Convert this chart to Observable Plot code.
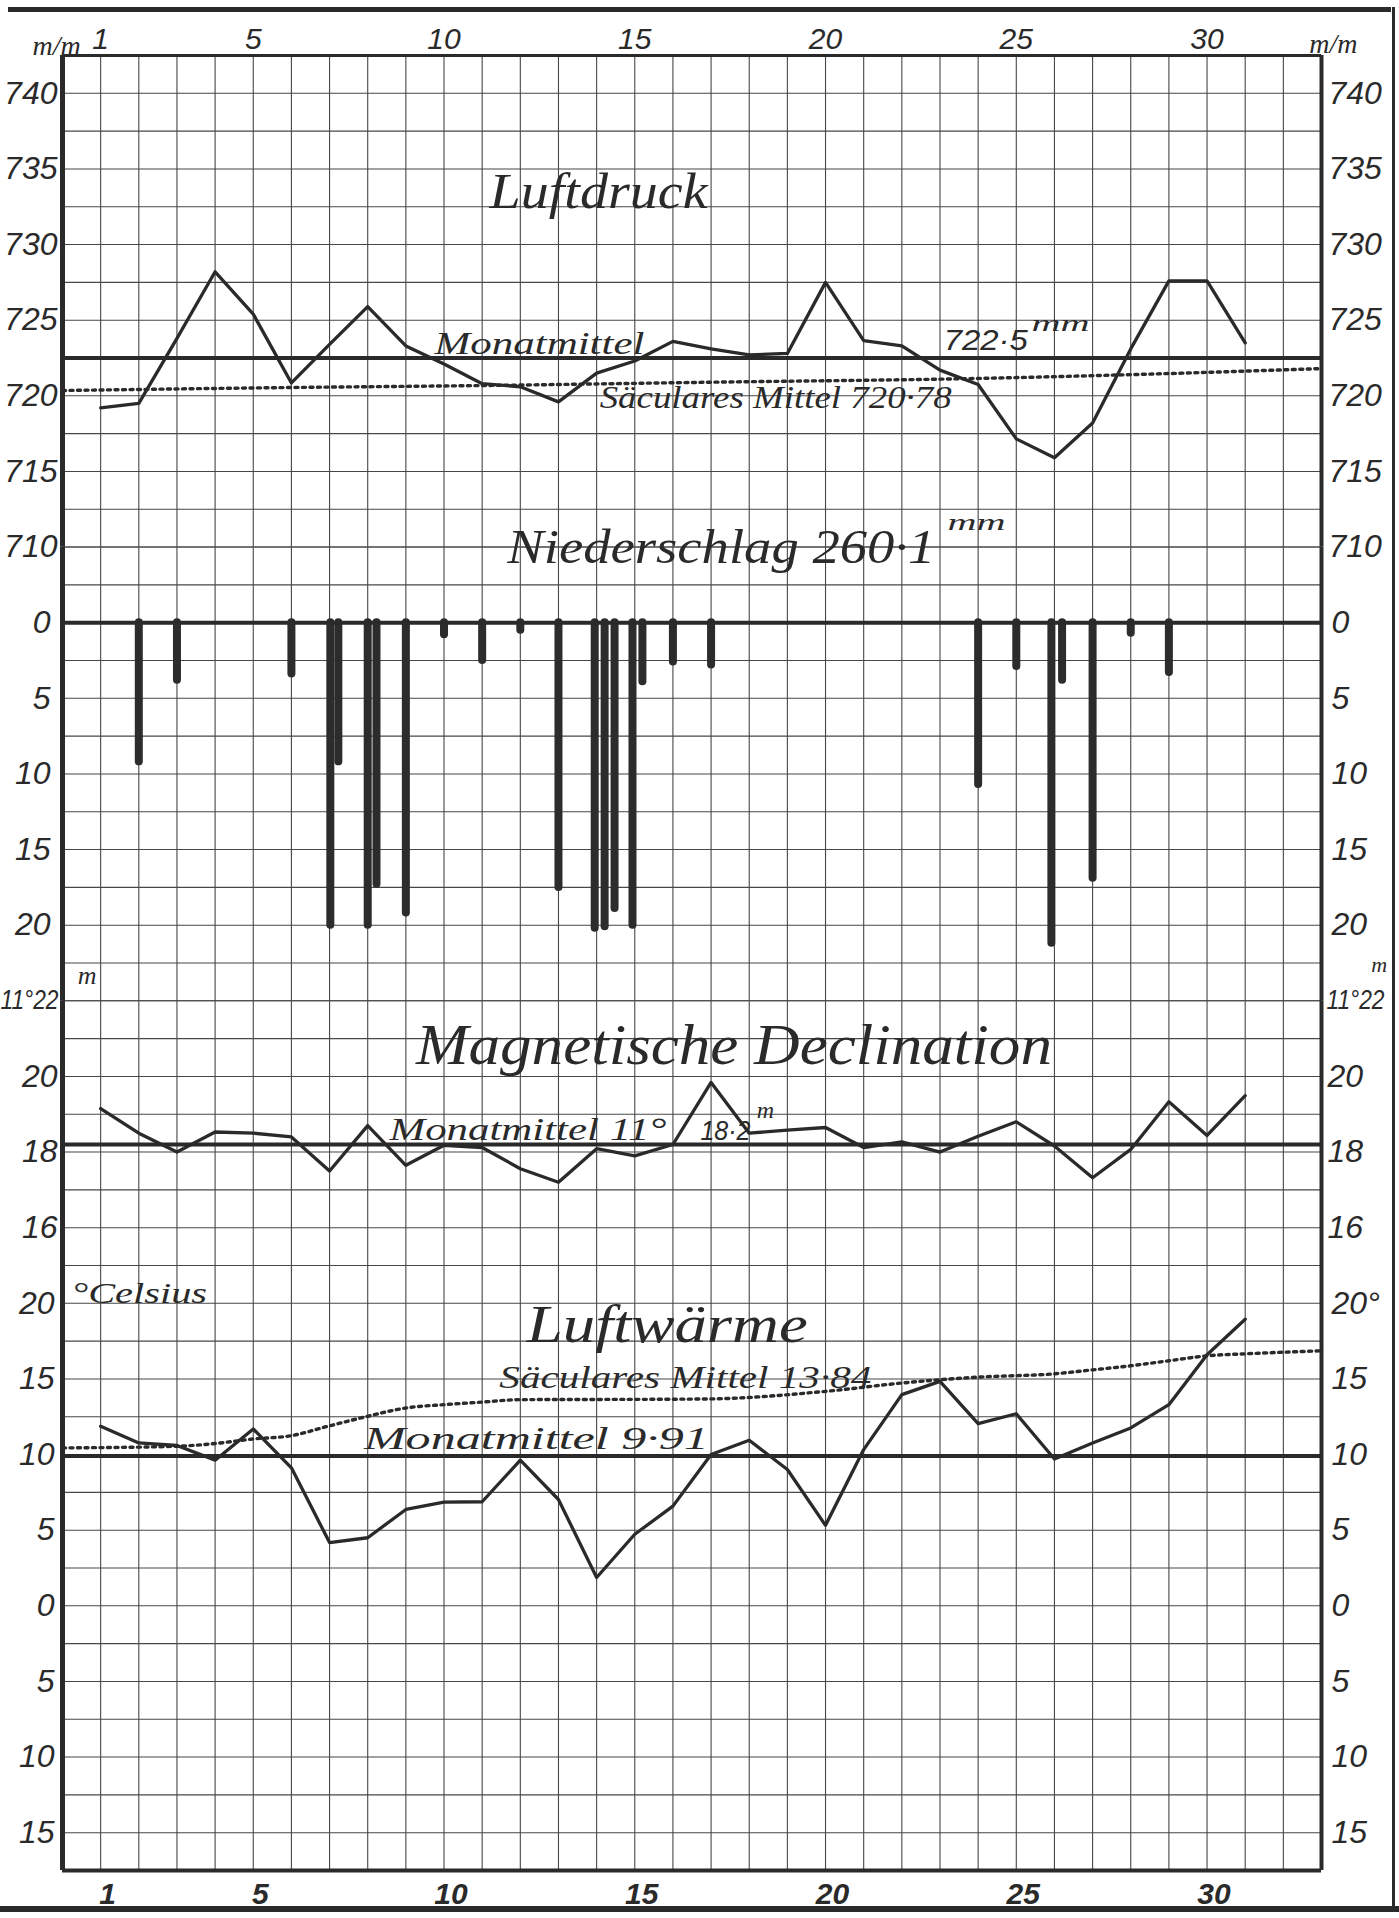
<!DOCTYPE html>
<html>
<head>
<meta charset="utf-8">
<script src="https://cdn.jsdelivr.net/npm/d3@7"></script>
<script src="https://cdn.jsdelivr.net/npm/@observablehq/plot@0.6"></script>
<style>
html, body { margin: 0; padding: 0; background: #fff; }
#wrap { position: relative; width: 1399px; height: 1918px; overflow: hidden; background: #fff; }
#wrap svg { position: absolute; left: 0; top: 0; }
.deco { position: absolute; background: #2a2a2a; }
</style>
</head>
<body>
<div id="wrap"></div>
<script>
// ---------------- data ----------------
const days = d3.range(1, 32);

// Luftdruck (mm)
const pressure = [719.2, 719.5, 723.8, 728.2, 725.4, 720.85, 723.4, 725.9, 723.3, 722.1,
                  720.8, 720.6, 719.6, 721.5, 722.3, 723.6, 723.1, 722.7, 722.8, 727.5,
                  723.65, 723.3, 721.7, 720.75, 717.15, 715.9, 718.2, 723.1, 727.6, 727.6, 723.5];
const pressureMean = 722.5;
const pressureSecularDays = [0, 6, 11, 17, 24, 28, 33];
const pressureSecularValues = [720.35, 720.55, 720.68, 720.9, 721.15, 721.4, 721.8];

// Niederschlag (mm) – bar positions in days, amounts
const precipDays = [2, 3, 6, 7.02, 7.23, 8, 8.23, 9, 10, 11, 12, 13, 13.95, 14.21, 14.47,
                    14.94, 15.2, 16, 17, 24, 25, 25.92, 26.2, 27, 28, 29];
const precipAmounts = [9.2, 3.8, 3.4, 20.0, 9.2, 20.0, 17.3, 19.2, 0.8, 2.5, 0.5, 17.5, 20.2, 20.1, 18.9,
                       20.0, 3.9, 2.6, 2.8, 10.7, 2.9, 21.2, 3.8, 16.9, 0.7, 3.3];

// Magnetische Declination (minutes above 11°)
const declination = [19.15, 18.5, 18.0, 18.53, 18.5, 18.4, 17.5, 18.7, 17.65, 18.18,
                     18.12, 17.56, 17.2, 18.09, 17.9, 18.2, 19.84, 18.5, 18.58, 18.65,
                     18.12, 18.27, 18.0, 18.42, 18.8, 18.16, 17.32, 18.07, 19.33, 18.44, 19.49];
const declinationMean = 18.2;

// Luftwärme (°C)
const temperature = [11.87, 10.77, 10.6, 9.63, 11.69, 9.12, 4.18, 4.5, 6.37, 6.86,
                     6.88, 9.63, 7.03, 1.87, 4.73, 6.59, 10.0, 10.95, 9.01, 5.32,
                     10.33, 13.96, 14.84, 12.04, 12.7, 9.71, 10.77, 11.76, 13.3, 16.6, 18.95];
const temperatureMean = 9.91;
const temperatureSecularDays = [0, 3, 4, 5, 6, 7, 8, 9, 10, 11, 12, 16, 17, 20, 22, 23, 24, 26, 27, 28, 29, 30, 31, 33];
const temperatureSecularValues = [10.44, 10.55, 10.73, 11.03, 11.25, 11.9, 12.53, 13.08, 13.3, 13.47, 13.63, 13.66,
                                  13.68, 14.18, 14.73, 14.95, 15.12, 15.34, 15.6, 15.87, 16.2, 16.53, 16.66, 16.86];

// tick labels
const dayTicks = [1, 5, 10, 15, 20, 25, 30];
const pressureTicks = [740, 735, 730, 725, 720, 715, 710];
const precipTicks = [0, 5, 10, 15, 20];
const declTicks = [22, 20, 18, 16];
const tempTicks = [20, 15, 10, 5, 0, -5, -10, -15];

// ---------------- tables ----------------
const pressureData = days.map((d, i) => ({day: d, value: pressure[i]}));
const pressureSecular = pressureSecularDays.map((d, i) => ({day: d, value: pressureSecularValues[i]}));
const precipData = precipDays.map((d, i) => ({day: d, amount: precipAmounts[i]}));
const declData = days.map((d, i) => ({day: d, value: declination[i]}));
const tempData = days.map((d, i) => ({day: d, value: temperature[i]}));
const tempSecular = temperatureSecularDays.map((d, i) => ({day: d, value: temperatureSecularValues[i]}));

// ---------------- layout ----------------
const W = 1399, H = 1918;
const FL = 62, FR = 1321, FT = 55, FB = 1870;
const rowH = (FB - FT) / 48;
const rowY = r => FT + (r + 1) * rowH;

const INK = "#2a2a2a";
const DIGITS = "'Liberation Sans', Arial, sans-serif";
const SCRIPT = "'Liberation Serif', 'DejaVu Serif', serif";
const gridStyle = {stroke: "#474747", strokeOpacity: 1, strokeWidth: 1.1};
const dotted = {stroke: INK, strokeWidth: 3.4, strokeDasharray: "3,4.5", strokeLinecap: "round"};

// text widths to fit (by text content)
const fitWidths = {"11°22": 58};
function note(text, x, y, o = {}) {
  if (o.width) fitWidths[text] = o.width;
  return Plot.text([text], {
    x, y, text: d => d,
    fontFamily: o.family || SCRIPT, fontStyle: "italic",
    fontSize: o.size || 30, fill: INK,
    textAnchor: o.anchor || "start", lineAnchor: "bottom"
  });
}
const axisOpts = {tickSize: 0, fontSize: 32, fontStyle: "italic", fontFamily: DIGITS, label: null};

function frameMarks() {
  return [
    Plot.ruleX([0], {stroke: INK, strokeWidth: 5}),
    Plot.ruleX([33], {stroke: INK, strokeWidth: 4})
  ];
}

function panel(r0, r1, y, marks, hideX) {
  return Plot.plot({
    width: W, height: H,
    marginLeft: FL, marginRight: W - FR,
    marginTop: rowY(r0), marginBottom: H - rowY(r1),
    x: hideX ? {domain: [0, 33], axis: null} : {domain: [0, 33]},
    y,
    style: {background: "transparent", overflow: "visible", color: INK, fontFamily: DIGITS},
    marks
  });
}

// ---- Luftdruck ----
const pPlot = panel(-1, 12, {domain: [710, 742.5]}, [
  Plot.gridY(d3.range(710, 742.6, 2.5), gridStyle),
  Plot.gridX(d3.range(0, 34), gridStyle),
  Plot.ruleY([742.5], {stroke: INK, strokeWidth: 3}),
  ...frameMarks(),
  Plot.ruleY([pressureMean], {stroke: INK, strokeWidth: 4}),
  Plot.line(pressureSecular, {x: "day", y: "value", curve: "monotone-x", ...dotted}),
  Plot.line(pressureData, {x: "day", y: "value", stroke: INK, strokeWidth: 3.3}),
  Plot.axisY(pressureTicks, {...axisOpts, anchor: "left", tickPadding: 5}),
  Plot.axisY(pressureTicks, {...axisOpts, anchor: "right", tickPadding: 7}),
  Plot.axisX(dayTicks, {...axisOpts, fontSize: 30, anchor: "top", tickPadding: 7}),
  Plot.text(["m/m"], {frameAnchor: "top-left", dx: -30, dy: -20, fontSize: 28, fontStyle: "italic", fontFamily: SCRIPT, fill: INK}),
  Plot.text(["m/m"], {frameAnchor: "top-right", dx: 36, dy: -22, fontSize: 28, fontStyle: "italic", fontFamily: SCRIPT, fill: INK}),
  note("Luftdruck", 14.05, 732.45, {size: 50, anchor: "middle", width: 218}),
  note("Monatmittel", 9.75, 722.75, {size: 32, width: 210}),
  note("722·5", 23.1, 723.0, {size: 30, family: DIGITS, width: 84}),
  note("mm", 25.4, 724.3, {size: 24, width: 58}),
  note("Säculares Mittel 720·78", 14.08, 719.2, {size: 32, width: 352})
]);

// ---- Niederschlag ----
const nPlot = panel(12, 24, {domain: [-5, 25], reverse: true}, [
  Plot.gridY(d3.range(-5, 25.1, 2.5), gridStyle),
  Plot.gridX(d3.range(0, 34), gridStyle),
  ...frameMarks(),
  Plot.ruleX(precipData, {x: "day", y1: 0, y2: "amount", stroke: "#2c2c2c", strokeWidth: 8, strokeLinecap: "round"}),
  Plot.ruleY([0], {stroke: INK, strokeWidth: 4}),
  Plot.axisY(precipTicks, {...axisOpts, anchor: "left", tickPadding: 12}),
  Plot.axisY(precipTicks, {...axisOpts, anchor: "right", tickPadding: 10}),
  note("Niederschlag 260·1", 11.66, -3.97, {size: 48, width: 428}),
  note("mm", 23.2, -6.1, {size: 24})
], true);

// ---- Magnetische Declination ----
const declFormat = d => d === 22 ? "11°22" : String(d);
const declMain = declTicks.filter(d => d !== 22);
const declTop = declTicks.filter(d => d === 22);
const dPlot = panel(24, 31, {domain: [15, 22]}, [
  Plot.gridY(d3.range(15, 22.1, 1), gridStyle),
  Plot.gridX(d3.range(0, 34), gridStyle),
  ...frameMarks(),
  Plot.ruleY([declinationMean], {stroke: INK, strokeWidth: 4}),
  Plot.line(declData, {x: "day", y: "value", stroke: INK, strokeWidth: 3.3}),
  Plot.axisY(declMain, {...axisOpts, anchor: "left", tickPadding: 5, tickFormat: declFormat}),
  Plot.axisY(declMain, {...axisOpts, anchor: "right", tickPadding: 6, tickFormat: declFormat}),
  Plot.axisY(declTop, {...axisOpts, fontSize: 27, anchor: "left", tickPadding: 4, tickFormat: declFormat}),
  Plot.axisY(declTop, {...axisOpts, fontSize: 27, anchor: "right", tickPadding: 5, tickFormat: declFormat}),
  note("m", 0.4, 22.45, {size: 26}),
  note("m", 34.72, 22.75, {size: 22, anchor: "end"}),
  note("Magnetische Declination", 17.6, 20.32, {size: 56, anchor: "middle", width: 636}),
  note("Monatmittel 11°", 8.57, 18.31, {size: 32, width: 277}),
  note("18·2", 16.72, 18.31, {size: 28, family: DIGITS, width: 50}),
  note("m", 18.2, 18.9, {size: 24})
], true);

// ---- Luftwärme ----
const tPlot = panel(31, 47, {domain: [-17.5, 22.5]}, [
  Plot.gridY(d3.range(-17.5, 22.6, 2.5), gridStyle),
  Plot.gridX(d3.range(0, 34), gridStyle),
  Plot.ruleY([-17.5], {stroke: INK, strokeWidth: 4}),
  ...frameMarks(),
  Plot.ruleY([temperatureMean], {stroke: INK, strokeWidth: 4}),
  Plot.line(tempSecular, {x: "day", y: "value", curve: "monotone-x", ...dotted}),
  Plot.line(tempData, {x: "day", y: "value", stroke: INK, strokeWidth: 3.3}),
  Plot.axisY(tempTicks, {...axisOpts, anchor: "left", tickPadding: 8, tickFormat: d => String(Math.abs(d))}),
  Plot.axisY(tempTicks, {...axisOpts, anchor: "right", tickPadding: 10, tickFormat: d => d === 20 ? "20°" : String(Math.abs(d))}),
  Plot.axisX(dayTicks, {...axisOpts, fontSize: 30, anchor: "bottom", tickPadding: 12, dx: 7, fontWeight: "bold"}),
  note("°Celsius", 0.25, 20.0, {size: 30, width: 135}),
  note("Luftwärme", 15.85, 17.45, {size: 52, anchor: "middle", width: 281}),
  note("Säculares Mittel 13·84", 11.45, 14.43, {size: 32, width: 372}),
  note("Monatmittel 9·91", 7.9, 10.4, {size: 32, width: 345})
]);

const wrap = document.getElementById("wrap");
for (const p of [pPlot, nPlot, dPlot, tPlot]) {
  wrap.appendChild(p);
  p.querySelectorAll("text").forEach(t => {
    const w = fitWidths[t.textContent];
    if (w) {
      t.setAttribute("textLength", w);
      t.setAttribute("lengthAdjust", "spacingAndGlyphs");
    }
  });
}

// page border strokes of the sheet
for (const [l, t, w, h] of [[8, 7, 1383, 5], [1392, 7, 3, 1902], [0, 1906, 1399, 6]]) {
  const d = document.createElement("div");
  d.className = "deco";
  Object.assign(d.style, {left: l + "px", top: t + "px", width: w + "px", height: h + "px"});
  wrap.appendChild(d);
}
</script>
</body>
</html>
